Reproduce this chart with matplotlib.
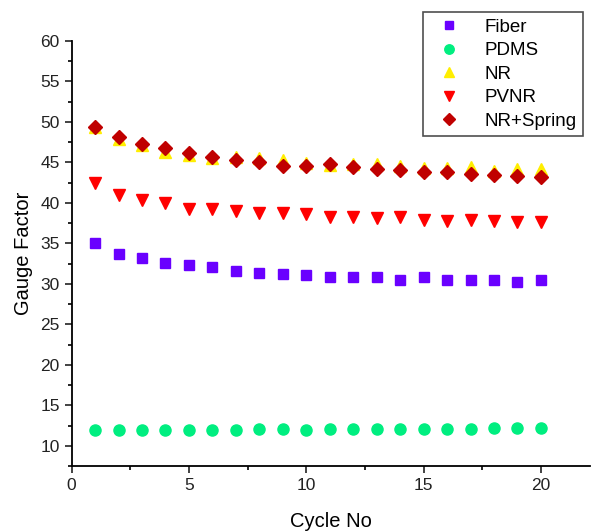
import matplotlib.pyplot as plt
from matplotlib.ticker import MultipleLocator

cycles = list(range(1, 21))

fiber = [35.0, 33.7, 33.25, 32.6, 32.35, 32.05, 31.6, 31.3, 31.25, 31.15,
         30.9, 30.9, 30.9, 30.45, 30.9, 30.45, 30.45, 30.45, 30.25, 30.45]
pdms = [11.9, 11.9, 11.9, 11.95, 12.0, 12.0, 12.0, 12.05, 12.05, 12.0,
        12.05, 12.05, 12.1, 12.1, 12.1, 12.1, 12.1, 12.15, 12.15, 12.15]
nr = [49.4, 47.9, 47.1, 46.3, 45.9, 45.6, 45.7, 45.6, 45.3, 44.9,
      44.7, 44.8, 44.8, 44.6, 44.3, 44.3, 44.4, 43.9, 44.2, 44.2]
pvnr = [42.4, 41.0, 40.3, 40.0, 39.2, 39.3, 39.0, 38.8, 38.7, 38.6,
        38.3, 38.2, 38.1, 38.2, 37.9, 37.8, 37.9, 37.8, 37.7, 37.7]
nr_spring = [49.4, 48.2, 47.25, 46.8, 46.15, 45.65, 45.3, 45.1, 44.55, 44.6,
             44.75, 44.45, 44.15, 44.05, 43.85, 43.85, 43.6, 43.45, 43.3, 43.25]

plt.rcParams['font.family'] = ['Liberation Sans', 'DejaVu Sans']

fig = plt.figure(figsize=(5.92, 5.32), dpi=100)
ax = fig.add_axes([0.121, 0.124, 0.876, 0.799])

ax.plot(cycles, fiber, linestyle='none', marker='s', markersize=7,
        color='#6a00ff', label='Fiber')
ax.plot(cycles, pdms, linestyle='none', marker='o', markersize=8,
        color='#00ee80', label='PDMS')
ax.plot(cycles, nr, linestyle='none', marker='^', markersize=9,
        color='#ffee00', label='NR')
ax.plot(cycles, pvnr, linestyle='none', marker='v', markersize=9,
        color='#ff0000', label='PVNR')
ax.plot(cycles, nr_spring, linestyle='none', marker='D', markersize=7.5,
        color='#c00000', label='NR+Spring')

ax.set_xlim(0, 22.1)
ax.set_ylim(7.5, 60)
ax.xaxis.set_major_locator(MultipleLocator(5))
ax.xaxis.set_minor_locator(MultipleLocator(2.5))
ax.yaxis.set_major_locator(MultipleLocator(5))
ax.yaxis.set_minor_locator(MultipleLocator(2.5))
ax.tick_params(which='major', direction='out', length=5, width=1.2, labelsize=12.5, colors='#222222')
ax.tick_params(which='minor', direction='out', length=3, width=1.2)

ax.spines['top'].set_visible(False)
ax.spines['right'].set_visible(False)
ax.spines['left'].set_linewidth(1.3)
ax.spines['bottom'].set_linewidth(1.3)

ax.set_xlabel('Cycle No', fontsize=14.5, labelpad=14)
ax.set_ylabel('Gauge Factor', fontsize=14.5, labelpad=5)

leg = ax.legend(loc='upper right', bbox_to_anchor=(0.986, 1.068), fontsize=13.5,
                frameon=True, fancybox=False, borderpad=0.35, labelspacing=0.34,
                handletextpad=0.9, markerscale=0.85, borderaxespad=0)
leg.get_frame().set_edgecolor('#222222')
leg.get_frame().set_linewidth(1.2)

fig.savefig('out.png', dpi=100)
